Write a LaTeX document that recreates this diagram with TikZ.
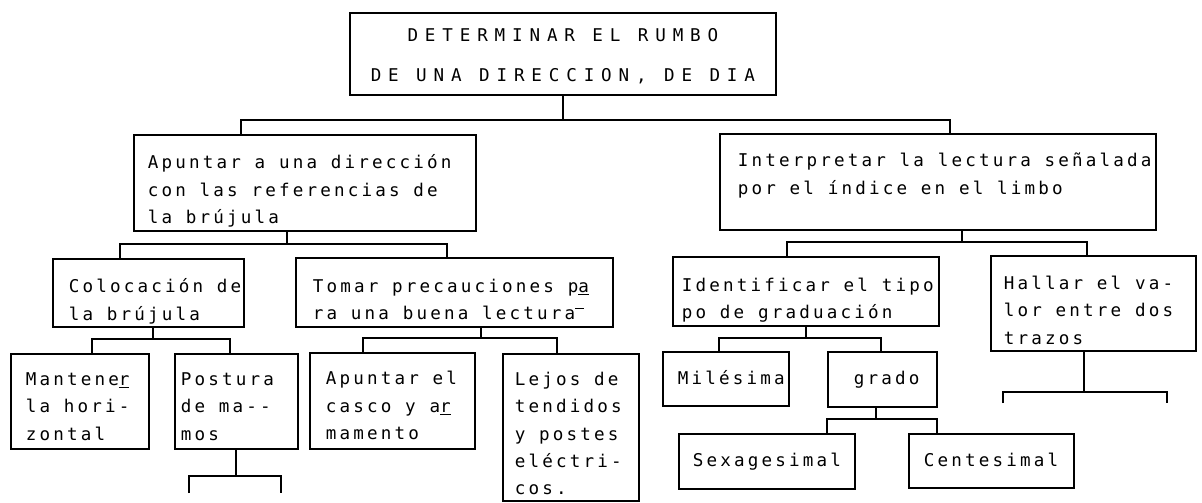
\documentclass[tikz,border=0pt]{standalone}
\usepackage{fontspec}
\usepackage{tikz}
\newfontfamily\plotfont[LetterSpace=18]{DejaVu Sans Mono}
\newfontfamily\titlefont[LetterSpace=39]{DejaVu Sans Mono}
% text block: lines left aligned, lowered a little inside its box
\newcommand{\lns}[2][0.2cm]{{\spaceskip=9.8pt plus 0pt minus 0pt\relax
  \raisebox{-#1}[\height][\depth]{\begin{tabular}{@{}l@{}}#2\end{tabular}}}}

\begin{document}
\begin{tikzpicture}[
    x=0.025cm, y=-0.025cm,
    box/.style={draw, line width=1.2pt, anchor=north west, align=left, inner ysep=0pt, font={\plotfont\fontsize{12.5}{19.5}\selectfont}},
    link/.style={line width=1pt},
]
    \useasboundingbox (0,0) rectangle (1202,502);

    % Level 0
    \node[box, align=center, text width=10.65cm, inner xsep=0pt, minimum height=2.05cm, font={\titlefont\fontsize{12.5}{28.5}\selectfont}] (root) at (349,12) {{\spaceskip=12.4pt\relax\begin{tabular}{@{}c@{}}DETERMINAR EL RUMBO\\DE UNA DIRECCION, DE DIA\end{tabular}}};

    % Level 1
    \node[box, text width=7.85cm, inner xsep=0.35cm, minimum height=2.4cm] (apunt) at (133,134) {\lns{Apuntar a una dirección\\con las referencias de\\la brújula}};
    \node[box, text width=10cm, inner xsep=0.45cm, minimum height=2.4cm] (interp) at (719,133) {\lns[-0.17cm]{Interpretar la lectura señalada\\por el índice en el limbo\\ }};

    % Level 2
    \node[box, text width=3.975cm, inner xsep=0.4cm, minimum height=1.7cm] (coloc) at (52,258) {\lns{Colocación de\\la brújula}};
    \node[box, text width=7.075cm, inner xsep=0.425cm, minimum height=1.725cm] (tomar) at (295,257) {\lns{Tomar precauciones p\underline{a}\\ra una buena lectura\rule[1.1ex]{0.5em}{0.7pt}}};
    \node[box, text width=6.2cm, inner xsep=0.225cm, minimum height=1.725cm] (ident) at (672,256) {\lns{Identificar el tipo\\po de graduación}};
    \node[box, text width=4.475cm, inner xsep=0.325cm, minimum height=2.375cm] (hallar) at (990,255) {\lns{Hallar el va-\\lor entre dos\\trazos}};

    % Level 3
    \node[box, text width=2.7cm, inner xsep=0.375cm, minimum height=2.375cm] (mant) at (10,353) {\lns[0.15cm]{Mantene\underline{r}\\la hori-\\zontal}};
    \node[box, text width=2.775cm, inner xsep=0.15cm, minimum height=2.375cm] (post) at (174,353) {\lns[0.15cm]{Postura\\de ma-{}-\\mos}};
    \node[box, text width=3.325cm, inner xsep=0.4cm, minimum height=2.4cm] (apcas) at (309,352) {\lns[0.15cm]{Apuntar el\\casco y a\underline{r}\\mamento}};
    \node[box, text width=2.8cm, inner xsep=0.3cm, minimum height=3.675cm] (lejos) at (502,353) {\lns[0.18cm]{Lejos de\\tendidos\\y postes\\eléctri-\\cos.}};
    \node[box, text width=2.4cm, inner xsep=0.375cm, minimum height=1.35cm] (miles) at (662,351) {\lns[0pt]{Milésima}};
    \node[box, text width=1.425cm, inner xsep=0.65cm, minimum height=1.375cm] (grado) at (827,351) {\lns[0pt]{grado}};

    % Level 4
    \node[box, text width=3.7cm, inner xsep=0.35cm, minimum height=1.375cm] (sexag) at (678,433) {\lns[0pt]{Sexagesimal}};
    \node[box, text width=3.375cm, inner xsep=0.375cm, minimum height=1.35cm] (cente) at (908,433) {\lns[0pt]{Centesimal}};

    % Junctions
    \coordinate (r0) at (563,120); \coordinate (r1) at (241,120); \coordinate (r2) at (950,120);
    \coordinate (a0) at (287,244); \coordinate (a1) at (120,244); \coordinate (a2) at (447,244);
    \coordinate (c0) at (153,339); \coordinate (c1) at (92,339);  \coordinate (c2) at (230,339);
    \coordinate (p0) at (236,476); \coordinate (p1) at (189,476); \coordinate (p2) at (281,476);
    \coordinate (p3) at (189,493); \coordinate (p4) at (281,493);
    \coordinate (t0) at (481,338); \coordinate (t1) at (363,338); \coordinate (t2) at (557,338);
    \coordinate (b0) at (962,242); \coordinate (b1) at (787,242); \coordinate (b2) at (1087,242);
    \coordinate (i0) at (806,338); \coordinate (i1) at (719,338); \coordinate (i2) at (881,338);
    \coordinate (g0) at (876,419); \coordinate (g1) at (827,419); \coordinate (g2) at (937,419);
    \coordinate (h0) at (1084,392); \coordinate (h1) at (1003,392); \coordinate (h2) at (1167,392);
    \coordinate (h3) at (1003,403); \coordinate (h4) at (1167,403);

    % Tree lines
    \draw[link] (root.south -| r0) -- (r0);
    \draw[link] (apunt.north -| r1) -- (r1) -- (r2) -- (interp.north -| r2);

    \draw[link] (apunt.south -| a0) -- (a0);
    \draw[link] (coloc.north -| a1) -- (a1) -- (a2) -- (tomar.north -| a2);

    \draw[link] (coloc.south -| c0) -- (c0);
    \draw[link] (mant.north -| c1) -- (c1) -- (c2) -- (post.north -| c2);

    \draw[link] (post.south -| p0) -- (p0);
    \draw[link] (p3) -- (p1) -- (p2) -- (p4);

    \draw[link] (tomar.south -| t0) -- (t0);
    \draw[link] (apcas.north -| t1) -- (t1) -- (t2) -- (lejos.north -| t2);

    \draw[link] (interp.south -| b0) -- (b0);
    \draw[link] (ident.north -| b1) -- (b1) -- (b2) -- (hallar.north -| b2);

    \draw[link] (ident.south -| i0) -- (i0);
    \draw[link] (miles.north -| i1) -- (i1) -- (i2) -- (grado.north -| i2);

    \draw[link] (grado.south -| g0) -- (g0);
    \draw[link] (sexag.north -| g1) -- (g1) -- (g2) -- (cente.north -| g2);

    \draw[link] (hallar.south -| h0) -- (h0);
    \draw[link] (h3) -- (h1) -- (h2) -- (h4);
\end{tikzpicture}
\end{document}
